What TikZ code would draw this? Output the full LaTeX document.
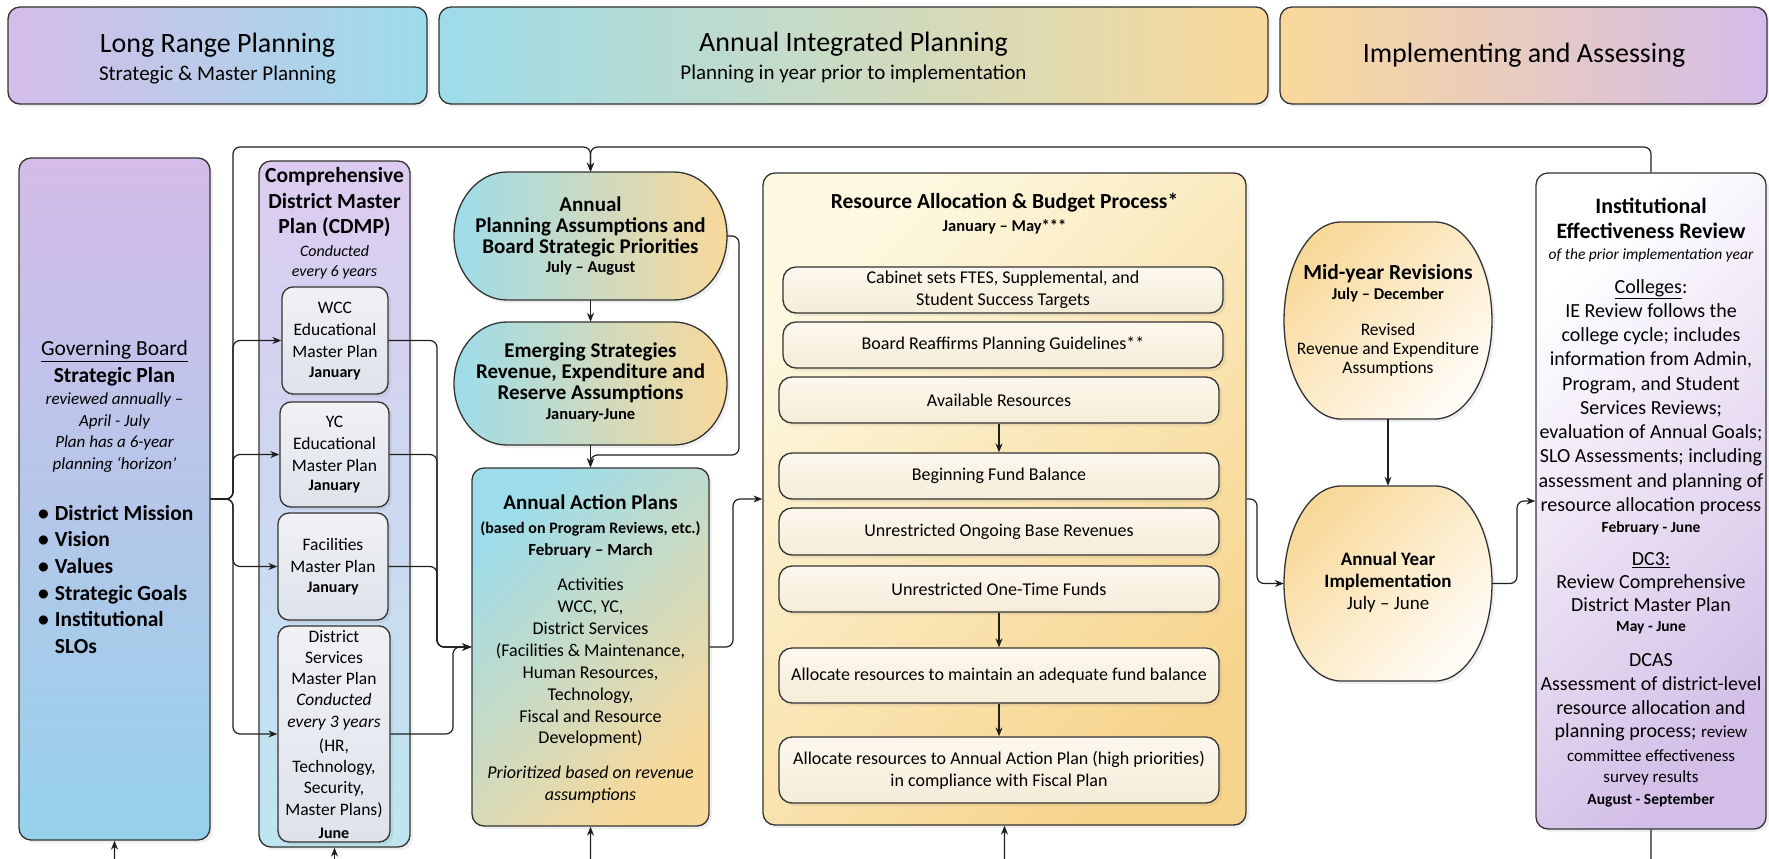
\documentclass[tikz,border=0pt]{standalone}
\usepackage{fontspec}
\setmainfont{Carlito}
\usetikzlibrary{arrows.meta,shadows,calc}
\newcommand{\fs}[2]{\fontsize{#1}{#2}\selectfont\lineskiplimit=-100pt\relax}
\definecolor{lav}{HTML}{D5BCE9}
\definecolor{cya}{HTML}{9DDCEA}
\definecolor{ora}{HTML}{F9D99A}
\definecolor{edgec}{HTML}{333333}
\definecolor{cdtop}{HTML}{DCCBF0}
\definecolor{cdbot}{HTML}{BDE6F0}
\definecolor{subtop}{HTML}{F1F1F5}
\definecolor{subbot}{HTML}{DDE3EA}
\definecolor{ratop}{HTML}{FDF8E0}
\definecolor{rabot}{HTML}{F7D48C}
\definecolor{intop}{HTML}{FCF8EE}
\definecolor{inbot}{HTML}{F5ECD8}
\definecolor{iebot}{HTML}{D3BEE7}
\definecolor{mrbot}{HTML}{FFFCF6}
\newcommand{\drawcapsule}[6]{%
  \pgfmathsetmacro\cpCY{(#4+#5)/2}%
  \pgfmathsetmacro\cpKY{0.5523*(#5-#4)/2}%
  \pgfmathsetmacro\cpKX{0.5523*#6}%
  \path[#1] (#2+#6,#4) -- (#3-#6,#4)
    .. controls (#3-#6+\cpKX,#4) and (#3,\cpCY-\cpKY) .. (#3,\cpCY)
    .. controls (#3,\cpCY+\cpKY) and (#3-#6+\cpKX,#5) .. (#3-#6,#5)
    -- (#2+#6,#5)
    .. controls (#2+#6-\cpKX,#5) and (#2,\cpCY+\cpKY) .. (#2,\cpCY)
    .. controls (#2,\cpCY-\cpKY) and (#2+#6-\cpKX,#4) .. (#2+#6,#4) -- cycle;}
\tikzset{
  shadowed/.style={drop shadow={opacity=0.13, shadow xshift=3pt, shadow yshift=-3pt}},
  box/.style={draw=edgec, line width=1.3pt, rounded corners=12pt, inner sep=0pt, shadowed},
  subbox/.style={box, rounded corners=11pt, top color=subtop, bottom color=subbot},
  inbox/.style={box, rounded corners=13pt, top color=intop, bottom color=inbot, align=center, font=\fs{18}{22}},
  ghost/.style={draw=none, inner sep=0pt},
  txt/.style={inner sep=0pt, align=center, text=black},
  conn/.style={draw=black!88, line width=1.2pt, rounded corners=7pt},
  arr/.style={conn, -{Stealth[length=9pt,width=7pt]}},
  capsule/.style={draw=edgec, line width=1.3pt, shadowed},
}
\begin{document}
\begin{tikzpicture}[x=1pt,y=-1pt]
\useasboundingbox (0,0) rectangle (1769,859);

% ---------- headers ----------
\node[box, minimum width=419pt, minimum height=97pt, left color=lav, right color=cya] (h1) at (217.5,55.5) {};
\node[box, minimum width=829pt, minimum height=97pt, left color=cya, right color=ora] (h2) at (853.5,55.5) {};
\node[box, minimum width=487pt, minimum height=97pt, left color=ora, right color=lav] (h3) at (1523.5,55.5) {};
\node[txt, font=\fs{28}{30}] (h1t) at (217.5,45) {Long Range Planning};
\node[txt, font=\fs{21}{24}] (h1s) at (217.5,75) {Strategic \& Master Planning};
\node[txt, font=\fs{28}{30}] (h2t) at (853.5,44) {Annual Integrated Planning};
\node[txt, font=\fs{21}{24}] (h2s) at (853.5,74) {Planning in year prior to implementation};
\node[txt, font=\fs{28}{30}] (h3t) at (1524,55) {Implementing and Assessing};

% ---------- Governing Board ----------
\node[box, minimum width=191pt, minimum height=682pt, top color=lav, bottom color=cya!95!blue] (gb) at (114.5,499) {};
\node[txt, font=\fs{21.5}{27}] (gbt) at (114.5,363.5) {\underline{Governing Board}\\\textbf{Strategic Plan}};
\node[txt, font=\fs{17}{21.7}\itshape] (gbi) at (114.5,432.5) {reviewed annually –\\April - July\\Plan has a 6-year\\planning ‘horizon’};
\node[inner sep=0pt, anchor=west, font=\fontsize{21.5}{26.6}\selectfont\bfseries] (gbl) at (38,581.5) {\begin{tabular}{@{}l@{\hspace{6pt}}l@{}}\textbullet&District Mission\\\textbullet&Vision\\\textbullet&Values\\\textbullet&Strategic Goals\\\textbullet&Institutional\\&SLOs\end{tabular}};

% ---------- CDMP ----------
\node[box, minimum width=151pt, minimum height=686pt, top color=cdtop, bottom color=cdbot] (cdmp) at (334.5,504) {};
\node[txt, font=\fs{21.5}{25.5}\bfseries] (cdt) at (334.5,202.5) {Comprehensive\\District Master\\Plan (CDMP)};
\node[txt, font=\fs{16}{20}\itshape] (cdi) at (334.5,262) {Conducted\\every 6 years};

\node[subbox, minimum width=106pt, minimum height=107pt] (wcc) at (335,340.5) {};
\node[txt, font=\fs{17.5}{22}] (wcct) at (335,330) {WCC\\Educational\\Master Plan};
\node[txt, font=\fs{16}{18}\bfseries] (wccd) at (335,374) {January};

\node[subbox, minimum width=109pt, minimum height=105pt] (yc) at (334.5,454.5) {};
\node[txt, font=\fs{17.5}{22}] (yct) at (334.5,443.5) {YC\\Educational\\Master Plan};
\node[txt, font=\fs{16}{18}\bfseries] (ycd) at (334.5,487) {January};

\node[subbox, minimum width=110pt, minimum height=107pt] (fac) at (333,566.5) {};
\node[txt, font=\fs{17.5}{22}] (fact) at (333,555) {Facilities\\Master Plan};
\node[txt, font=\fs{16}{18}\bfseries] (facd) at (333,589) {January};

\node[subbox, minimum width=112pt, minimum height=216pt] (ds) at (334,734) {};
\node[txt, font=\fs{17.5}{21}] (dst) at (334,658) {District\\Services\\Master Plan};
\node[txt, font=\fs{17.5}{22}\itshape] (dsi) at (334,712) {Conducted\\every 3 years};
\node[txt, font=\fs{17.5}{21.3}] (dsl) at (334,778) {(HR,\\Technology,\\Security,\\Master Plans)};
\node[txt, font=\fs{16}{18}\bfseries] (dsd) at (334,833) {June};

% ---------- Annual planning capsules ----------
\drawcapsule{capsule, left color=cya, right color=ora}{454}{727}{172}{300}{53}
\node[ghost, minimum width=273pt, minimum height=128pt] (apa) at (590.5,236) {};
\node[txt, font=\fs{21}{21}\bfseries] (apat) at (590.5,227) {Annual\\Planning Assumptions and\\Board Strategic Priorities};
\node[txt, font=\fs{16.5}{18}\bfseries] (apad) at (590.5,268) {July – August};

\drawcapsule{capsule, left color=cya, right color=ora}{454}{727}{322}{445}{53}
\node[ghost, minimum width=273pt, minimum height=123pt] (esr) at (590.5,383.5) {};
\node[txt, font=\fs{21}{21}\bfseries] (esrt) at (590.5,373) {Emerging Strategies\\Revenue, Expenditure and\\Reserve Assumptions};
\node[txt, font=\fs{16.5}{18}\bfseries] (esrd) at (590.5,415) {January-June};

% ---------- Annual Action Plans ----------
\node[box, minimum width=237pt, minimum height=358pt, top color=cya, bottom color=ora, shading angle=45] (aap) at (590.5,647) {};
\node[txt, font=\fs{21}{24}\bfseries] (aapt) at (590.5,502) {Annual Action Plans};
\node[txt, font=\fs{16}{18}\bfseries] (aaps) at (590.5,529) {(based on Program Reviews, etc.)};
\node[txt, font=\fs{17}{19}\bfseries] (aapd) at (590.5,551) {February – March};
\node[txt, font=\fs{18}{21.9}] (aapl) at (590.5,662.5) {Activities\\WCC, YC,\\District Services\\(Facilities \& Maintenance,\\Human Resources,\\Technology,\\Fiscal and Resource\\Development)};
\node[txt, font=\fs{18}{22.5}\itshape] (aapi) at (590.5,784.5) {Prioritized based on revenue\\assumptions};

% ---------- Resource Allocation ----------
\node[box, minimum width=483pt, minimum height=652pt, top color=ratop, bottom color=rabot, shading angle=45] (ra) at (1004.5,499) {};
\node[txt, font=\fs{21.5}{24}\bfseries] (rat) at (1004.5,203) {Resource Allocation \& Budget Process*};
\node[txt, font=\fs{16.5}{18}\bfseries] (rad) at (1004.5,227) {January – May***};
\node[inbox, minimum width=440pt, minimum height=46pt] (cab) at (1003,290) {Cabinet sets FTES, Supplemental, and\\Student Success Targets};
\node[inbox, minimum width=440pt, minimum height=46pt] (brd) at (1003,345) {Board Reaffirms Planning Guidelines**};
\node[inbox, minimum width=440pt, minimum height=46pt] (avl) at (999,400) {Available Resources};
\node[inbox, minimum width=440pt, minimum height=46pt] (bfb) at (999,476) {Beginning Fund Balance};
\node[inbox, minimum width=440pt, minimum height=47pt] (uob) at (999,531.5) {Unrestricted Ongoing Base Revenues};
\node[inbox, minimum width=440pt, minimum height=46pt] (uot) at (999,589) {Unrestricted One-Time Funds};
\node[inbox, minimum width=440pt, minimum height=55pt] (amf) at (999,675.5) {Allocate resources to maintain an adequate fund balance};
\node[inbox, minimum width=440pt, minimum height=66pt] (aap2) at (999,770) {Allocate resources to Annual Action Plan (high priorities)\\in compliance with Fiscal Plan};

% ---------- Mid-year / Implementation ----------
\drawcapsule{capsule, top color=ora, bottom color=mrbot, shading angle=45}{1284}{1492}{222}{419}{57}
\node[ghost, minimum width=208pt, minimum height=197pt] (mr) at (1388,320.5) {};
\node[txt, font=\fs{21.5}{24}\bfseries] (mrt) at (1388,274) {Mid-year Revisions};
\node[txt, font=\fs{16.5}{18}\bfseries] (mrd) at (1388,295) {July – December};
\node[txt, font=\fs{17.5}{18.7}] (mrl) at (1388,350) {Revised\\Revenue and Expenditure\\Assumptions};

\drawcapsule{capsule, top color=ora, bottom color=mrbot, shading angle=45}{1284}{1492}{486}{681}{57}
\node[ghost, minimum width=208pt, minimum height=195pt] (ayi) at (1388,583.5) {};
\node[txt, font=\fs{19}{21.5}\bfseries] (ayit) at (1388,571.5) {Annual Year\\Implementation};
\node[txt, font=\fs{19}{21.5}] (ayid) at (1388,604) {July – June};

% ---------- Institutional Effectiveness ----------
\node[box, minimum width=230pt, minimum height=656pt, top color=white, bottom color=iebot, shading angle=45] (ie) at (1651,501) {};
\node[txt, font=\fs{22}{25}\bfseries] (iet) at (1651,218.5) {Institutional\\Effectiveness Review};
\node[txt, font=\fs{15.5}{18}\itshape] (iei) at (1651,255) {of the prior implementation year};
\node[txt, font=\fs{20}{24}] (iec) at (1651,289) {\underline{Colleges}:};
\node[txt, font=\fs{20}{24.25}] (iecl) at (1651,409) {IE Review follows the\\college cycle; includes\\information from Admin,\\Program, and Student\\Services Reviews;\\evaluation of Annual Goals;\\SLO Assessments; including\\assessment and planning of\\resource allocation process};
\node[txt, font=\fs{15.5}{18}\bfseries] (iecd) at (1651,528) {February - June};
\node[txt, font=\fs{20}{24}] (ied) at (1651,560) {\underline{DC3:}};
\node[txt, font=\fs{20}{23}] (iedl) at (1651,593.5) {Review Comprehensive\\District Master Plan};
\node[txt, font=\fs{15.5}{18}\bfseries] (iedd) at (1651,628) {May - June};
\node[txt, font=\fs{20}{23.7}] (ieal) at (1651,697.5) {DCAS\\Assessment of district-level\\resource allocation and\\planning process; {\fs{17}{23.7}review}};
\node[txt, font=\fs{17}{21}] (ieas) at (1651,767.5) {committee effectiveness\\survey results};
\node[txt, font=\fs{15.5}{18}\bfseries] (iead) at (1651,800) {August - September};

% ---------- connectors ----------
\coordinate (gbj) at (233,499);
\coordinate (topl) at (233,147);
\coordinate (topm) at (590.5,147);
\coordinate (topr) at (1651,147);
\draw[arr] (gb.east) -- (gbj) |- (wcc.west);
\draw[arr] (gb.east) -- (gbj) |- (yc.west);
\draw[arr] (gb.east) -- (gbj) |- (fac.west);
\draw[arr] (gb.east) -- (gbj) |- (ds.west);
\draw[arr] (gb.east) -- (gbj) -- (topl) -- (topm) -- (apa.north);
\draw[arr] (ie.north) -- (topr) -- (topm) -- (apa.north);

\draw[arr] (apa.south) -- (esr.north);
\draw[arr] (esr.south) -- (aap.north);
\coordinate (apr) at (739,236);
\coordinate (apb) at (739,455);
\coordinate (apm) at (590.5,455);
\draw[arr] (apa.east) -- (apr) -- (apb) -- (apm) -- (aap.north);

\coordinate (mgx) at (437,647);
\coordinate (dsx) at (453,647);
\draw[arr] (wcc.east) -| (mgx) -- (aap.west);
\draw[arr] (yc.east) -| (mgx) -- (aap.west);
\draw[arr] (fac.east) -| (mgx) -- (aap.west);
\draw[arr] (ds.east) -| (dsx) -- (aap.west);

\coordinate (aapr) at (733,647);
\draw[arr] (aap.east) -- (aapr) |- (ra.west);
\coordinate (rar) at (1257,499);
\draw[arr] (ra.east) -- (rar) |- (ayi.west);
\draw[arr] (mr.south) -- (ayi.north);
\coordinate (ayr) at (1517,583.5);
\draw[arr] (ayi.east) -- (ayr) |- (ie.west);

\draw[arr] (avl.south) -- (bfb.north);
\draw[arr] (uot.south) -- (amf.north);
\draw[arr] (amf.south) -- (aap2.north);

% ---------- loop-back from the bottom ----------
\coordinate (b1) at (121,863);
\coordinate (b2) at (341,863);
\coordinate (b3) at (597,863);
\coordinate (b4) at (1011,863);
\coordinate (b5) at (1645,863);
\draw[arr] (b1) .. controls (114.5,863) .. (114.5,855) -- (gb.south);
\draw[arr] (b2) .. controls (334.5,863) .. (334.5,856) -- (cdmp.south);
\draw[arr] (b3) .. controls (590.5,863) .. (590.5,855) -- (aap.south);
\draw[arr] (b4) .. controls (1004.5,863) .. (1004.5,855) -- (ra.south);
\draw[conn] (ie.south) -- (1651,855) .. controls (1651,863) .. (b5);
\end{tikzpicture}
\end{document}
